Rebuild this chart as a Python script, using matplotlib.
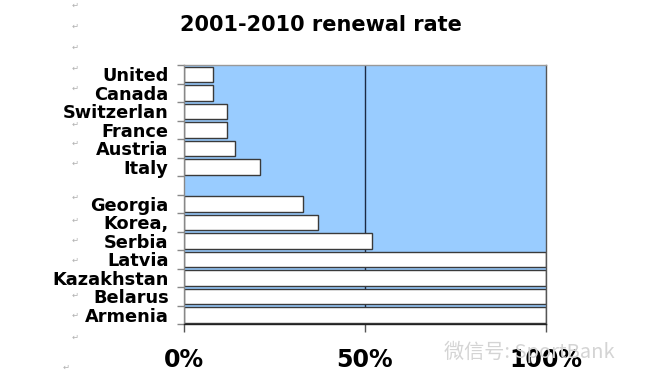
import numpy as np
import matplotlib.pyplot as plt

# countries top to bottom, one empty slot after Italy
countries = ['United', 'Canada', 'Switzerlan', 'France', 'Austria', 'Italy', '',
             'Georgia', 'Korea,', 'Serbia', 'Latvia', 'Kazakhstan', 'Belarus', 'Armenia']
# renewal rate in percent (blank slot has no bar)
rates = [8, 8, 12, 12, 14, 21, np.nan, 33, 37, 52, 100, 100, 100, 100]
xticks = [0, 50, 100]
xlabels = ['0%', '50%', '100%']

fig = plt.figure(figsize=(6.5, 3.9), dpi=100)
ax = fig.add_axes([0.283, 0.169, 0.557, 0.664])
ax.set_facecolor('#99ccff')

pos = np.arange(len(countries))
vals = np.array(rates, dtype=float)
ok = ~np.isnan(vals)
ax.barh(pos[ok], vals[ok], height=0.84, color='white', edgecolor='#3a3a3a',
        linewidth=1.0, zorder=3)

# 50% line behind the bars
ax.axvline(50, color='#1c2a44', linewidth=1.0, zorder=2)

ax.set_xlim(0, 100)
ax.set_ylim(len(countries) - 0.5, -0.5)

ax.set_yticks(pos)
ax.set_yticklabels(countries, fontsize=12.8, fontweight='bold')
ax.set_yticks(np.arange(len(countries) + 1) - 0.5, minor=True)
ax.tick_params(axis='y', which='major', length=0, pad=11)
ax.tick_params(axis='y', which='minor', length=5, color='#888888', width=1)

ax.set_xticks(xticks)
ax.set_xticklabels(xlabels, fontsize=17, fontweight='bold')
ax.tick_params(axis='x', length=6, color='#555555', width=1, pad=11)

ax.spines['left'].set_color('#888888')
ax.spines['top'].set_color('#999999')
ax.spines['right'].set_color('#555555')
ax.spines['bottom'].set_color('#222222')
for s in ax.spines.values():
    s.set_linewidth(1.0)
    s.set_zorder(4)

fig.text(0.493, 0.935, '2001-2010 renewal rate', ha='center', va='center',
         fontsize=15, fontweight='bold')

# faint paragraph marks down the left side
marks_y = [5, 26, 47, 68, 88, 124, 143, 163, 197, 220, 240, 260, 295, 315, 337]
for yy in marks_y:
    fig.text(75 / 650, 1 - yy / 390, '\u21b5', fontsize=6, color='#b0b0b0',
             ha='center', va='center')
fig.text(66 / 650, 1 - 367 / 390, '\u21b5', fontsize=6, color='#b0b0b0',
         ha='center', va='center')

# watermark
fig.text(0.683, 0.097, '微信号: SportBank', fontsize=14.5, color='#d4d4d4',
         family=['Noto Sans CJK SC', 'DejaVu Sans'], ha='left', va='center', zorder=0)

fig.savefig('out.png', dpi=100, facecolor='white')
